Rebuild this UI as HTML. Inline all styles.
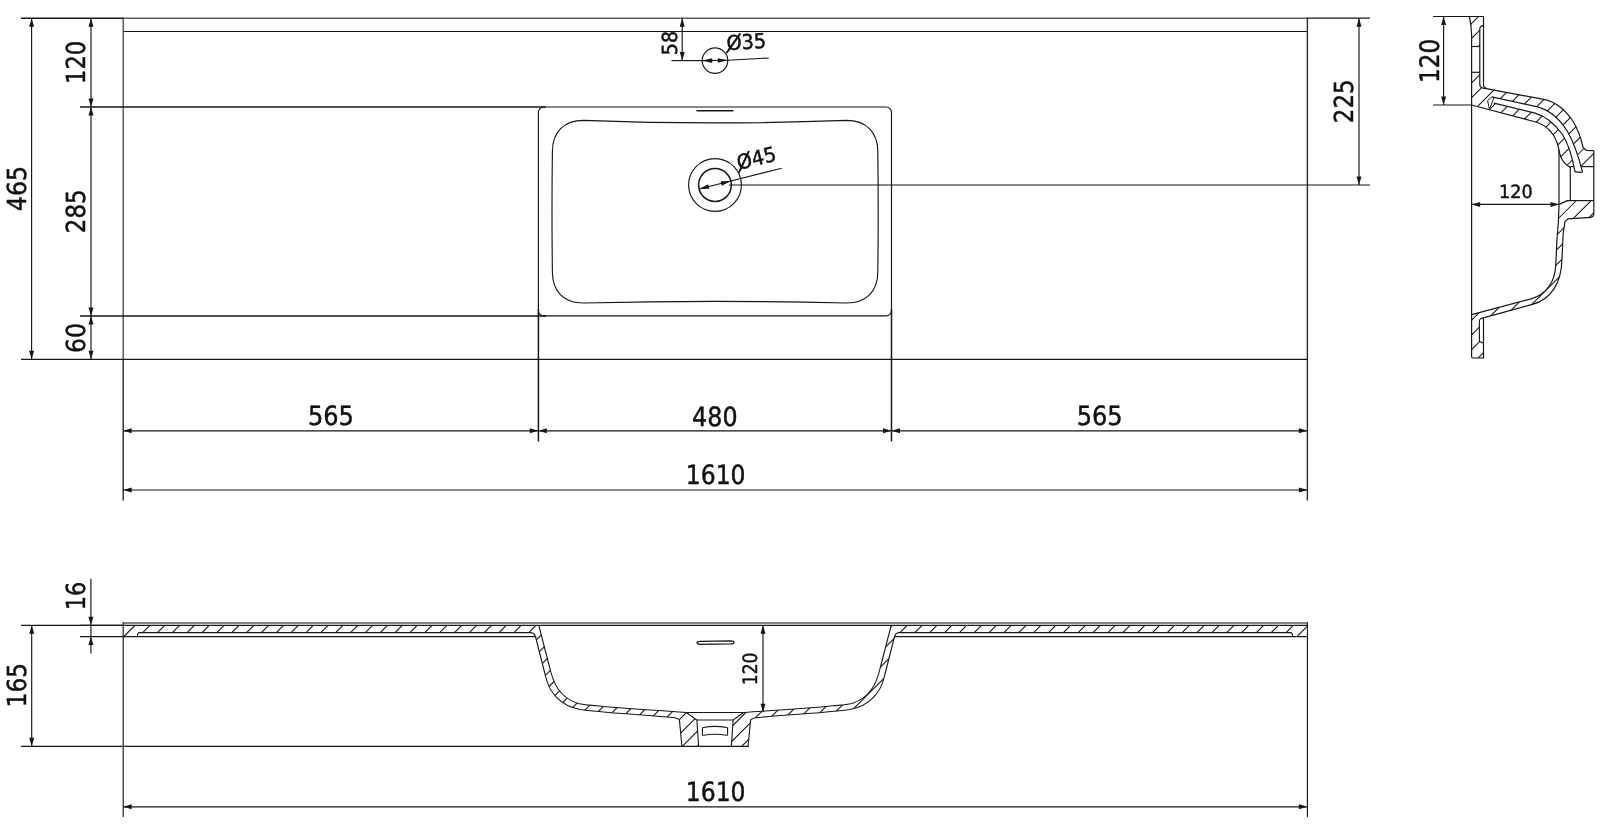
<!DOCTYPE html>
<html lang="en"><head><meta charset="utf-8"><title>Washbasin 1610 technical drawing</title>
<style>html,body{margin:0;padding:0;background:#fff;overflow:hidden}svg{display:block;filter:grayscale(1)}text{text-rendering:geometricPrecision;font-family:"DejaVu Sans Condensed","DejaVu Sans","Liberation Sans",sans-serif;font-stretch:condensed;fill:#111;stroke:#111;stroke-width:0.45px;stroke-linejoin:round}</style></head><body>
<svg width="1600" height="827" viewBox="0 0 1600 827">
<rect x="0" y="0" width="1600" height="827" fill="#ffffff"/>
<g id="top-view">
<line x1="21" y1="18.2" x2="123.2" y2="18.2" stroke="#161616" stroke-width="1.45" />
<line x1="123.2" y1="18.2" x2="1307.4" y2="18.2" stroke="#5e5e5e" stroke-width="1.55" />
<line x1="1307.4" y1="18.2" x2="1370" y2="18.2" stroke="#161616" stroke-width="1.3" />
<line x1="123" y1="31.5" x2="1307.4" y2="31.5" stroke="#161616" stroke-width="1.15" />
<line x1="123.2" y1="17.5" x2="123.2" y2="359.3" stroke="#4a4a4a" stroke-width="1.35" />
<line x1="123.2" y1="359.3" x2="123.2" y2="500.5" stroke="#161616" stroke-width="1.3" />
<line x1="1307.4" y1="17.5" x2="1307.4" y2="500.5" stroke="#2a2a2a" stroke-width="1.4" />
<line x1="21" y1="359.35" x2="1307.4" y2="359.35" stroke="#161616" stroke-width="1.15" />
<line x1="80" y1="107" x2="546" y2="107" stroke="#161616" stroke-width="1.5" />
<line x1="80" y1="316" x2="546" y2="316" stroke="#161616" stroke-width="1.5" />
<rect x="538.4" y="107" width="353.1" height="208.9" rx="5.5" ry="5.5" fill="none" stroke="#161616" stroke-width="1.15"/>
<line x1="538.4" y1="309" x2="538.4" y2="441.5" stroke="#161616" stroke-width="1.5" />
<line x1="891.5" y1="309" x2="891.5" y2="441.5" stroke="#161616" stroke-width="1.5" />
<path d="M552.4,151.5 C552.4,132 564,120.4 583.5,120.4 Q715,125.4 846.5,120.4 C866,120.4 877.8,132 877.8,151.5 Q878.6,212 877.8,272 C877.8,291.5 866,303 846.5,303 Q715,299.8 583.5,303 C564,303 552.4,291.5 552.4,272 Q551.6,212 552.4,151.5 Z" fill="none" stroke="#161616" stroke-width="1.15" />
<line x1="696.5" y1="110.8" x2="733.5" y2="110.8" stroke="#161616" stroke-width="1.6" />
<circle cx="715" cy="60.6" r="12.8" fill="none" stroke="#161616" stroke-width="1.15"/>
<circle cx="715" cy="185" r="26.4" fill="none" stroke="#161616" stroke-width="1.15"/>
<circle cx="715" cy="185" r="16.4" fill="none" stroke="#161616" stroke-width="1.5"/>
<line x1="729" y1="185" x2="1370" y2="185" stroke="#161616" stroke-width="1.15" />
</g>
<g id="top-dims">
<line x1="31.6" y1="18.2" x2="31.6" y2="359.3" stroke="#161616" stroke-width="1.15" />
<polygon points="31.60,18.20 34.10,26.70 29.10,26.70" fill="#161616"/>
<polygon points="31.60,359.30 29.10,350.80 34.10,350.80" fill="#161616"/>
<text transform="translate(25.50,211.29) rotate(-90) scale(1.012,1)" font-size="26.2">465</text>
<line x1="91" y1="18.2" x2="91" y2="107" stroke="#161616" stroke-width="1.15" />
<polygon points="91.00,18.20 93.50,26.70 88.50,26.70" fill="#161616"/>
<polygon points="91.00,107.00 88.50,98.50 93.50,98.50" fill="#161616"/>
<line x1="91" y1="107" x2="91" y2="316" stroke="#161616" stroke-width="1.15" />
<polygon points="91.00,107.00 93.50,115.50 88.50,115.50" fill="#161616"/>
<polygon points="91.00,316.00 88.50,307.50 93.50,307.50" fill="#161616"/>
<line x1="91" y1="316" x2="91" y2="359.3" stroke="#161616" stroke-width="1.15" />
<polygon points="91.00,316.00 93.50,324.50 88.50,324.50" fill="#161616"/>
<polygon points="91.00,359.30 88.50,350.80 93.50,350.80" fill="#161616"/>
<text transform="translate(85.40,84.02) rotate(-90) scale(0.962,1)" font-size="26.2">120</text>
<text transform="translate(85.40,233.16) rotate(-90) scale(0.977,1)" font-size="26.2">285</text>
<text transform="translate(85.40,353.01) rotate(-90) scale(1.007,1)" font-size="26.2">60</text>
<line x1="123.2" y1="430.8" x2="538.4" y2="430.8" stroke="#161616" stroke-width="1.15" />
<polygon points="123.20,430.80 131.70,428.30 131.70,433.30" fill="#161616"/>
<polygon points="538.40,430.80 529.90,433.30 529.90,428.30" fill="#161616"/>
<line x1="538.4" y1="430.8" x2="891.5" y2="430.8" stroke="#161616" stroke-width="1.15" />
<polygon points="538.40,430.80 546.90,428.30 546.90,433.30" fill="#161616"/>
<polygon points="891.50,430.80 883.00,433.30 883.00,428.30" fill="#161616"/>
<line x1="891.5" y1="430.8" x2="1307.4" y2="430.8" stroke="#161616" stroke-width="1.15" />
<polygon points="891.50,430.80 900.00,428.30 900.00,433.30" fill="#161616"/>
<polygon points="1307.40,430.80 1298.90,433.30 1298.90,428.30" fill="#161616"/>
<text transform="translate(307.93,424.50) rotate(0) scale(1.007,1)" font-size="26.5">565</text>
<text transform="translate(692.11,426.00) rotate(0) scale(0.998,1)" font-size="26.5">480</text>
<text transform="translate(1076.78,424.50) rotate(0) scale(1.008,1)" font-size="26.5">565</text>
<line x1="123.2" y1="490" x2="1307.4" y2="490" stroke="#161616" stroke-width="1.15" />
<polygon points="123.20,490.00 131.70,487.50 131.70,492.50" fill="#161616"/>
<polygon points="1307.40,490.00 1298.90,492.50 1298.90,487.50" fill="#161616"/>
<text transform="translate(685.79,484.15) rotate(0) scale(0.985,1)" font-size="26.5">1610</text>
<line x1="1359" y1="18.2" x2="1359" y2="185" stroke="#161616" stroke-width="1.15" />
<polygon points="1359.00,18.20 1361.50,26.70 1356.50,26.70" fill="#161616"/>
<polygon points="1359.00,185.00 1356.50,176.50 1361.50,176.50" fill="#161616"/>
<text transform="translate(1352.90,123.16) rotate(-90) scale(0.977,1)" font-size="26.2">225</text>
<line x1="682.2" y1="18.2" x2="682.2" y2="60.6" stroke="#161616" stroke-width="1.15" />
<polygon points="682.20,18.20 684.70,26.70 679.70,26.70" fill="#161616"/>
<polygon points="682.20,60.60 679.70,52.10 684.70,52.10" fill="#161616"/>
<line x1="671.5" y1="60.6" x2="702.2" y2="60.6" stroke="#161616" stroke-width="1.15" />
<text transform="translate(676.54,55.13) rotate(-90) scale(1.014,1)" font-size="20.79">58</text>
<line x1="702.2" y1="60.6" x2="727.8" y2="60.3" stroke="#161616" stroke-width="1.15" />
<line x1="727.8" y1="60.3" x2="768.8" y2="58.0" stroke="#161616" stroke-width="1.15" />
<polygon points="702.20,60.60 712.20,58.30 712.20,62.90" fill="#161616"/>
<polygon points="727.80,60.30 717.84,62.77 717.76,58.17" fill="#161616"/>
<g transform="translate(726.9,50.3) rotate(-3.6)"><text transform="scale(1.05,1)" font-size="20.4">Ø35</text><line x1="-0.66" y1="2.86" x2="14.48" y2="-16.11" stroke="#161616" stroke-width="1.7"/></g>
<line x1="699.08" y1="188.94" x2="781.8" y2="168.2" stroke="#161616" stroke-width="1.15" />
<polygon points="699.08,188.94 708.23,184.30 709.34,188.77" fill="#161616"/>
<polygon points="730.92,181.06 721.77,185.70 720.66,181.23" fill="#161616"/>
<g transform="translate(738.8,169.9) rotate(-13.9)"><text transform="scale(1.05,1)" font-size="20.4">Ø45</text><line x1="-0.66" y1="2.86" x2="14.48" y2="-16.11" stroke="#161616" stroke-width="1.7"/></g>
</g>
<g id="side-view">
<defs><clipPath id="sideclip">
<path d="M1469.4,16.5 L1483.5,16.5 L1483.5,25.6 L1479.8,28 L1479.8,46.5 L1471.6,46.5 L1471.6,35 Q1471.4,25 1469.4,16.5 Z"/>
<path d="M1471.6,72.3 L1479.8,72.3 L1478.8,85 L1481,87.5 L1486.3,88.7 L1491.9,89.8 L1491.9,96.9 L1488,100.5 L1489.5,109.8 L1471.6,105 Z"/>
<path d="M1486.3,88.7 L1543.8,99.4 C1556,102 1566,111 1572.5,120.5 C1578,129 1581,138 1583.1,147.5 L1586.3,150.3 L1593.8,150.6 L1593.8,166.6 L1583,166.6 L1582.5,171.9 C1579,158 1574,143 1567.5,131.5 C1561,121 1551,110.5 1537.5,106.9 L1491.9,96.9 L1491.9,89.8 Z"/>
<path d="M1493.8,103.1 L1535,113.1 C1547,116.5 1556,125.5 1562.5,134.5 C1568.5,144 1572.5,158 1575,171.9 L1570.3,167.5 C1565,164.5 1561,160 1559.6,153 C1559,150 1558.6,147 1557,142.5 C1554,134 1547.5,126 1537.5,122.5 L1471.6,105 L1489.5,109.8 Z"/>
<path d="M1559,204.4 L1567.5,200.6 L1593.8,200.6 L1593.8,215.6 L1591.3,217.3 L1568,218.8 L1565,221.5 L1563.2,233 L1561.9,260 C1561.5,283 1551,299 1532.5,304.4 L1482.5,318.1 L1479.4,318.8 L1479.4,341.9 L1483.5,341.9 L1483.5,358 L1471.6,358 L1471.6,314.6 L1531.2,298.8 C1547,294.5 1554.8,281 1555.7,266 L1556.9,240 L1558.4,222 Z"/>
</clipPath></defs>
<g clip-path="url(#sideclip)">
<line x1="1485.1" y1="10" x2="1125.1" y2="370" stroke="#161616" stroke-width="1.05" />
<line x1="1499.93" y1="10" x2="1139.93" y2="370" stroke="#161616" stroke-width="1.05" />
<line x1="1514.76" y1="10" x2="1154.76" y2="370" stroke="#161616" stroke-width="1.05" />
<line x1="1529.59" y1="10" x2="1169.59" y2="370" stroke="#161616" stroke-width="1.05" />
<line x1="1544.42" y1="10" x2="1184.42" y2="370" stroke="#161616" stroke-width="1.05" />
<line x1="1559.25" y1="10" x2="1199.25" y2="370" stroke="#161616" stroke-width="1.05" />
<line x1="1574.08" y1="10" x2="1214.08" y2="370" stroke="#161616" stroke-width="1.05" />
<line x1="1588.91" y1="10" x2="1228.91" y2="370" stroke="#161616" stroke-width="1.05" />
<line x1="1603.74" y1="10" x2="1243.74" y2="370" stroke="#161616" stroke-width="1.05" />
<line x1="1618.57" y1="10" x2="1258.57" y2="370" stroke="#161616" stroke-width="1.05" />
<line x1="1633.4" y1="10" x2="1273.4" y2="370" stroke="#161616" stroke-width="1.05" />
<line x1="1648.23" y1="10" x2="1288.23" y2="370" stroke="#161616" stroke-width="1.05" />
<line x1="1663.06" y1="10" x2="1303.06" y2="370" stroke="#161616" stroke-width="1.05" />
<line x1="1677.89" y1="10" x2="1317.89" y2="370" stroke="#161616" stroke-width="1.05" />
<line x1="1692.72" y1="10" x2="1332.72" y2="370" stroke="#161616" stroke-width="1.05" />
<line x1="1707.55" y1="10" x2="1347.55" y2="370" stroke="#161616" stroke-width="1.05" />
<line x1="1722.38" y1="10" x2="1362.38" y2="370" stroke="#161616" stroke-width="1.05" />
<line x1="1737.21" y1="10" x2="1377.21" y2="370" stroke="#161616" stroke-width="1.05" />
<line x1="1752.04" y1="10" x2="1392.04" y2="370" stroke="#161616" stroke-width="1.05" />
<line x1="1766.87" y1="10" x2="1406.87" y2="370" stroke="#161616" stroke-width="1.05" />
<line x1="1781.7" y1="10" x2="1421.7" y2="370" stroke="#161616" stroke-width="1.05" />
<line x1="1796.53" y1="10" x2="1436.53" y2="370" stroke="#161616" stroke-width="1.05" />
<line x1="1811.36" y1="10" x2="1451.36" y2="370" stroke="#161616" stroke-width="1.05" />
<line x1="1826.19" y1="10" x2="1466.19" y2="370" stroke="#161616" stroke-width="1.05" />
<line x1="1841.02" y1="10" x2="1481.02" y2="370" stroke="#161616" stroke-width="1.05" />
<line x1="1855.85" y1="10" x2="1495.85" y2="370" stroke="#161616" stroke-width="1.05" />
<line x1="1870.68" y1="10" x2="1510.68" y2="370" stroke="#161616" stroke-width="1.05" />
<line x1="1885.51" y1="10" x2="1525.51" y2="370" stroke="#161616" stroke-width="1.05" />
</g>
<line x1="1433" y1="16.5" x2="1483.6" y2="16.5" stroke="#161616" stroke-width="1.2" />
<line x1="1433" y1="105" x2="1472" y2="105" stroke="#161616" stroke-width="1.2" />
<path d="M1469.4,16.5 Q1471.4,25 1471.6,35 L1471.6,356.5 Q1471.6,358 1473,358 L1483.5,358 L1483.5,319 L1482.5,318.1" fill="none" stroke="#161616" stroke-width="1.2" />
<path d="M1483.5,16.5 L1483.5,86.3" fill="none" stroke="#161616" stroke-width="1.2" />
<path d="M1483.5,25.6 Q1480,25.8 1479.8,29 L1479.8,84 Q1479.6,87.2 1483,88.1 L1486.3,88.7" fill="none" stroke="#161616" stroke-width="1.2" />
<line x1="1471.6" y1="46.5" x2="1479.8" y2="46.5" stroke="#161616" stroke-width="1.15" />
<line x1="1471.6" y1="72.3" x2="1479.8" y2="72.3" stroke="#161616" stroke-width="1.15" />
<path d="M1483.5,86.3 L1486.3,88.7 L1543.8,99.4 C1556,102 1566,111 1572.5,120.5 C1578,129 1581,138 1583.1,147.5 L1586.3,150.3 L1593.8,150.6" fill="none" stroke="#161616" stroke-width="1.2" />
<path d="M1491.9,96.9 L1537.5,106.9 C1551,110.5 1561,121 1567.5,131.5 C1574,143 1579,158 1582.5,171.9" fill="none" stroke="#161616" stroke-width="1.2" />
<path d="M1493.8,103.1 L1535,113.1 C1547,116.5 1556,125.5 1562.5,134.5 C1568.5,144 1572.5,158 1575,171.9" fill="none" stroke="#161616" stroke-width="1.2" />
<path d="M1471.6,105 L1537.5,122.5 C1547.5,126 1554,134 1557,142.5 C1558.6,147 1559,150 1559.6,153 C1561,160 1565,164.5 1570.3,167.5" fill="none" stroke="#161616" stroke-width="1.2" />
<path d="M1487.6,100.6 L1491.9,96.9 M1489.5,109.5 L1493.8,98 M1487.6,100.6 L1489.5,109.5" fill="none" stroke="#161616" stroke-width="1.0" />
<line x1="1575" y1="171.9" x2="1582.5" y2="172.3" stroke="#161616" stroke-width="1.2" />
<line x1="1559" y1="150" x2="1559" y2="204.4" stroke="#161616" stroke-width="1.2" />
<line x1="1570.3" y1="166.6" x2="1570.3" y2="200.6" stroke="#161616" stroke-width="1.2" />
<line x1="1570.3" y1="166.6" x2="1573.6" y2="166.6" stroke="#161616" stroke-width="1.2" />
<line x1="1581.6" y1="166.6" x2="1593.8" y2="166.6" stroke="#161616" stroke-width="1.2" />
<line x1="1593.8" y1="150.6" x2="1593.8" y2="215.6" stroke="#161616" stroke-width="1.2" />
<line x1="1566.5" y1="200.6" x2="1593.8" y2="200.6" stroke="#161616" stroke-width="1.2" />
<line x1="1559" y1="204.4" x2="1567.5" y2="200.6" stroke="#161616" stroke-width="1.2" />
<path d="M1559,204.4 L1558.4,222 L1556.9,240 L1555.7,266 C1554.8,281 1547,294.5 1531.2,298.8 L1471.7,314.6" fill="none" stroke="#161616" stroke-width="1.2" />
<path d="M1593.8,215.6 L1591.3,217.3 L1568,218.8 L1565,221.5 L1563.2,233 L1561.9,260 C1561.5,283 1551,299 1532.5,304.4 L1482.5,318.1" fill="none" stroke="#161616" stroke-width="1.2" />
<path d="M1483.5,318 Q1479.6,318.2 1479.4,321 L1479.4,341.3 L1483.5,343.2" fill="none" stroke="#161616" stroke-width="1.1" />
<line x1="1443.6" y1="16.5" x2="1443.6" y2="105" stroke="#161616" stroke-width="1.15" />
<polygon points="1443.60,16.50 1446.10,25.00 1441.10,25.00" fill="#161616"/>
<polygon points="1443.60,105.00 1441.10,96.50 1446.10,96.50" fill="#161616"/>
<text transform="translate(1438.50,83.08) rotate(-90) scale(0.964,1)" font-size="26.8">120</text>
<line x1="1471.6" y1="204.4" x2="1559" y2="204.4" stroke="#161616" stroke-width="1.15" />
<polygon points="1471.60,204.40 1480.10,201.90 1480.10,206.90" fill="#161616"/>
<polygon points="1559.00,204.40 1550.50,206.90 1550.50,201.90" fill="#161616"/>
<text transform="translate(1498.99,198.13) rotate(0) scale(1.085,1)" font-size="18.08">120</text>
</g>
<g id="front-view">
<defs><clipPath id="frontclip"><path d="M123.2,625.3 L538.8,625.3 L549.8,668 C553.5,684 560,697.5 578,703.5 C590,706.5 640,709 686.3,712.5 L696.9,720 L698.6,746.3 L681.9,746.3 L679.4,719.6 L675,717.8 C640,714.5 600,712.5 580,709.5 C560,706 549,692 545.5,676 L535.6,637 Q534.5,632.8 531,632.6 L139.5,632.6 Q137.5,632.6 137.4,636.6 L123.2,636.6 Z"/><path d="M123.2,625.3 L538.8,625.3 L549.8,668 C553.5,684 560,697.5 578,703.5 C590,706.5 640,709 686.3,712.5 L696.9,720 L698.6,746.3 L681.9,746.3 L679.4,719.6 L675,717.8 C640,714.5 600,712.5 580,709.5 C560,706 549,692 545.5,676 L535.6,637 Q534.5,632.8 531,632.6 L139.5,632.6 Q137.5,632.6 137.4,636.6 L123.2,636.6 Z" transform="translate(1430,0) scale(-1,1)"/></clipPath></defs>
<g clip-path="url(#frontclip)">
<line x1="115.85" y1="600" x2="-44.15" y2="760" stroke="#161616" stroke-width="1.1" />
<line x1="130.7" y1="600" x2="-29.3" y2="760" stroke="#161616" stroke-width="1.1" />
<line x1="145.55" y1="600" x2="-14.45" y2="760" stroke="#161616" stroke-width="1.1" />
<line x1="160.4" y1="600" x2="0.4" y2="760" stroke="#161616" stroke-width="1.1" />
<line x1="175.25" y1="600" x2="15.25" y2="760" stroke="#161616" stroke-width="1.1" />
<line x1="190.1" y1="600" x2="30.1" y2="760" stroke="#161616" stroke-width="1.1" />
<line x1="204.95" y1="600" x2="44.95" y2="760" stroke="#161616" stroke-width="1.1" />
<line x1="219.8" y1="600" x2="59.8" y2="760" stroke="#161616" stroke-width="1.1" />
<line x1="234.65" y1="600" x2="74.65" y2="760" stroke="#161616" stroke-width="1.1" />
<line x1="249.5" y1="600" x2="89.5" y2="760" stroke="#161616" stroke-width="1.1" />
<line x1="264.35" y1="600" x2="104.35" y2="760" stroke="#161616" stroke-width="1.1" />
<line x1="279.2" y1="600" x2="119.2" y2="760" stroke="#161616" stroke-width="1.1" />
<line x1="294.05" y1="600" x2="134.05" y2="760" stroke="#161616" stroke-width="1.1" />
<line x1="308.9" y1="600" x2="148.9" y2="760" stroke="#161616" stroke-width="1.1" />
<line x1="323.75" y1="600" x2="163.75" y2="760" stroke="#161616" stroke-width="1.1" />
<line x1="338.6" y1="600" x2="178.6" y2="760" stroke="#161616" stroke-width="1.1" />
<line x1="353.45" y1="600" x2="193.45" y2="760" stroke="#161616" stroke-width="1.1" />
<line x1="368.3" y1="600" x2="208.3" y2="760" stroke="#161616" stroke-width="1.1" />
<line x1="383.15" y1="600" x2="223.15" y2="760" stroke="#161616" stroke-width="1.1" />
<line x1="398.0" y1="600" x2="238.0" y2="760" stroke="#161616" stroke-width="1.1" />
<line x1="412.85" y1="600" x2="252.85" y2="760" stroke="#161616" stroke-width="1.1" />
<line x1="427.7" y1="600" x2="267.7" y2="760" stroke="#161616" stroke-width="1.1" />
<line x1="442.55" y1="600" x2="282.55" y2="760" stroke="#161616" stroke-width="1.1" />
<line x1="457.4" y1="600" x2="297.4" y2="760" stroke="#161616" stroke-width="1.1" />
<line x1="472.25" y1="600" x2="312.25" y2="760" stroke="#161616" stroke-width="1.1" />
<line x1="487.1" y1="600" x2="327.1" y2="760" stroke="#161616" stroke-width="1.1" />
<line x1="501.95" y1="600" x2="341.95" y2="760" stroke="#161616" stroke-width="1.1" />
<line x1="516.8" y1="600" x2="356.8" y2="760" stroke="#161616" stroke-width="1.1" />
<line x1="531.65" y1="600" x2="371.65" y2="760" stroke="#161616" stroke-width="1.1" />
<line x1="546.5" y1="600" x2="386.5" y2="760" stroke="#161616" stroke-width="1.1" />
<line x1="561.35" y1="600" x2="401.35" y2="760" stroke="#161616" stroke-width="1.1" />
<line x1="576.2" y1="600" x2="416.2" y2="760" stroke="#161616" stroke-width="1.1" />
<line x1="591.05" y1="600" x2="431.05" y2="760" stroke="#161616" stroke-width="1.1" />
<line x1="605.9" y1="600" x2="445.9" y2="760" stroke="#161616" stroke-width="1.1" />
<line x1="620.75" y1="600" x2="460.75" y2="760" stroke="#161616" stroke-width="1.1" />
<line x1="635.6" y1="600" x2="475.6" y2="760" stroke="#161616" stroke-width="1.1" />
<line x1="650.45" y1="600" x2="490.45" y2="760" stroke="#161616" stroke-width="1.1" />
<line x1="665.3" y1="600" x2="505.3" y2="760" stroke="#161616" stroke-width="1.1" />
<line x1="680.15" y1="600" x2="520.15" y2="760" stroke="#161616" stroke-width="1.1" />
<line x1="695.0" y1="600" x2="535.0" y2="760" stroke="#161616" stroke-width="1.1" />
<line x1="709.85" y1="600" x2="549.85" y2="760" stroke="#161616" stroke-width="1.1" />
<line x1="724.7" y1="600" x2="564.7" y2="760" stroke="#161616" stroke-width="1.1" />
<line x1="739.55" y1="600" x2="579.55" y2="760" stroke="#161616" stroke-width="1.1" />
<line x1="754.4" y1="600" x2="594.4" y2="760" stroke="#161616" stroke-width="1.1" />
<line x1="769.25" y1="600" x2="609.25" y2="760" stroke="#161616" stroke-width="1.1" />
<line x1="784.1" y1="600" x2="624.1" y2="760" stroke="#161616" stroke-width="1.1" />
<line x1="798.95" y1="600" x2="638.95" y2="760" stroke="#161616" stroke-width="1.1" />
<line x1="813.8" y1="600" x2="653.8" y2="760" stroke="#161616" stroke-width="1.1" />
<line x1="828.65" y1="600" x2="668.65" y2="760" stroke="#161616" stroke-width="1.1" />
<line x1="843.5" y1="600" x2="683.5" y2="760" stroke="#161616" stroke-width="1.1" />
<line x1="858.35" y1="600" x2="698.35" y2="760" stroke="#161616" stroke-width="1.1" />
<line x1="873.2" y1="600" x2="713.2" y2="760" stroke="#161616" stroke-width="1.1" />
<line x1="888.05" y1="600" x2="728.05" y2="760" stroke="#161616" stroke-width="1.1" />
<line x1="902.9" y1="600" x2="742.9" y2="760" stroke="#161616" stroke-width="1.1" />
<line x1="917.75" y1="600" x2="757.75" y2="760" stroke="#161616" stroke-width="1.1" />
<line x1="932.6" y1="600" x2="772.6" y2="760" stroke="#161616" stroke-width="1.1" />
<line x1="947.45" y1="600" x2="787.45" y2="760" stroke="#161616" stroke-width="1.1" />
<line x1="962.3" y1="600" x2="802.3" y2="760" stroke="#161616" stroke-width="1.1" />
<line x1="977.15" y1="600" x2="817.15" y2="760" stroke="#161616" stroke-width="1.1" />
<line x1="992.0" y1="600" x2="832.0" y2="760" stroke="#161616" stroke-width="1.1" />
<line x1="1006.85" y1="600" x2="846.85" y2="760" stroke="#161616" stroke-width="1.1" />
<line x1="1021.7" y1="600" x2="861.7" y2="760" stroke="#161616" stroke-width="1.1" />
<line x1="1036.55" y1="600" x2="876.55" y2="760" stroke="#161616" stroke-width="1.1" />
<line x1="1051.4" y1="600" x2="891.4" y2="760" stroke="#161616" stroke-width="1.1" />
<line x1="1066.25" y1="600" x2="906.25" y2="760" stroke="#161616" stroke-width="1.1" />
<line x1="1081.1" y1="600" x2="921.1" y2="760" stroke="#161616" stroke-width="1.1" />
<line x1="1095.95" y1="600" x2="935.95" y2="760" stroke="#161616" stroke-width="1.1" />
<line x1="1110.8" y1="600" x2="950.8" y2="760" stroke="#161616" stroke-width="1.1" />
<line x1="1125.65" y1="600" x2="965.65" y2="760" stroke="#161616" stroke-width="1.1" />
<line x1="1140.5" y1="600" x2="980.5" y2="760" stroke="#161616" stroke-width="1.1" />
<line x1="1155.35" y1="600" x2="995.35" y2="760" stroke="#161616" stroke-width="1.1" />
<line x1="1170.2" y1="600" x2="1010.2" y2="760" stroke="#161616" stroke-width="1.1" />
<line x1="1185.05" y1="600" x2="1025.05" y2="760" stroke="#161616" stroke-width="1.1" />
<line x1="1199.9" y1="600" x2="1039.9" y2="760" stroke="#161616" stroke-width="1.1" />
<line x1="1214.75" y1="600" x2="1054.75" y2="760" stroke="#161616" stroke-width="1.1" />
<line x1="1229.6" y1="600" x2="1069.6" y2="760" stroke="#161616" stroke-width="1.1" />
<line x1="1244.45" y1="600" x2="1084.45" y2="760" stroke="#161616" stroke-width="1.1" />
<line x1="1259.3" y1="600" x2="1099.3" y2="760" stroke="#161616" stroke-width="1.1" />
<line x1="1274.15" y1="600" x2="1114.15" y2="760" stroke="#161616" stroke-width="1.1" />
<line x1="1289.0" y1="600" x2="1129.0" y2="760" stroke="#161616" stroke-width="1.1" />
<line x1="1303.85" y1="600" x2="1143.85" y2="760" stroke="#161616" stroke-width="1.1" />
<line x1="1318.7" y1="600" x2="1158.7" y2="760" stroke="#161616" stroke-width="1.1" />
<line x1="1333.55" y1="600" x2="1173.55" y2="760" stroke="#161616" stroke-width="1.1" />
<line x1="1348.4" y1="600" x2="1188.4" y2="760" stroke="#161616" stroke-width="1.1" />
<line x1="1363.25" y1="600" x2="1203.25" y2="760" stroke="#161616" stroke-width="1.1" />
<line x1="1378.1" y1="600" x2="1218.1" y2="760" stroke="#161616" stroke-width="1.1" />
<line x1="1392.95" y1="600" x2="1232.95" y2="760" stroke="#161616" stroke-width="1.1" />
<line x1="1407.8" y1="600" x2="1247.8" y2="760" stroke="#161616" stroke-width="1.1" />
<line x1="1422.65" y1="600" x2="1262.65" y2="760" stroke="#161616" stroke-width="1.1" />
<line x1="1437.5" y1="600" x2="1277.5" y2="760" stroke="#161616" stroke-width="1.1" />
<line x1="1452.35" y1="600" x2="1292.35" y2="760" stroke="#161616" stroke-width="1.1" />
<line x1="1467.2" y1="600" x2="1307.2" y2="760" stroke="#161616" stroke-width="1.1" />
<line x1="1482.05" y1="600" x2="1322.05" y2="760" stroke="#161616" stroke-width="1.1" />
<line x1="1496.9" y1="600" x2="1336.9" y2="760" stroke="#161616" stroke-width="1.1" />
</g>
<line x1="123.2" y1="623" x2="1307.4" y2="623" stroke="#5a5a5a" stroke-width="1.6" />
<line x1="21" y1="625.3" x2="1307.4" y2="625.3" stroke="#161616" stroke-width="1.2" />
<line x1="21" y1="746.3" x2="748.8" y2="746.3" stroke="#161616" stroke-width="1.2" />
<line x1="123.2" y1="622.3" x2="123.2" y2="817" stroke="#161616" stroke-width="1.15" />
<line x1="1307.4" y1="622.3" x2="1307.4" y2="817" stroke="#161616" stroke-width="1.15" />
<g>
<line x1="80" y1="636.6" x2="535.6" y2="636.6" stroke="#161616" stroke-width="1.2" />
<path d="M137.4,636.6 Q137.5,632.6 139.5,632.6 L531,632.6 Q534.5,632.8 535.6,637" fill="none" stroke="#161616" stroke-width="1.1" />
<path d="M538.8,625.3 L549.8,668 C553.5,684 560,697.5 578,703.5 C590,706.5 640,709 686.3,712.5" fill="none" stroke="#161616" stroke-width="1.1" />
<path d="M535.6,637 L545.5,676 C549,692 560,706 580,709.5 C600,712.5 640,714.5 675,717.8 L679.4,719.6 L681.9,746.3" fill="none" stroke="#161616" stroke-width="1.1" />
<path d="M686.3,712.5 L696.9,720 L698.6,746.3" fill="none" stroke="#161616" stroke-width="1.1" />
</g>
<g transform="translate(1430,0) scale(-1,1)">
<line x1="123.2" y1="636.6" x2="535.6" y2="636.6" stroke="#161616" stroke-width="1.2" />
<path d="M137.4,636.6 Q137.5,632.6 139.5,632.6 L531,632.6 Q534.5,632.8 535.6,637" fill="none" stroke="#161616" stroke-width="1.1" />
<path d="M538.8,625.3 L549.8,668 C553.5,684 560,697.5 578,703.5 C590,706.5 640,709 686.3,712.5" fill="none" stroke="#161616" stroke-width="1.1" />
<path d="M535.6,637 L545.5,676 C549,692 560,706 580,709.5 C600,712.5 640,714.5 675,717.8 L679.4,719.6 L681.9,746.3" fill="none" stroke="#161616" stroke-width="1.1" />
<path d="M686.3,712.5 L696.9,720 L698.6,746.3" fill="none" stroke="#161616" stroke-width="1.1" />
</g>
<line x1="686.3" y1="712.5" x2="743.7" y2="712.5" stroke="#161616" stroke-width="1.2" />
<line x1="696.9" y1="720" x2="733.1" y2="720" stroke="#161616" stroke-width="1.1" />
<path d="M703.5,727.5 Q715,725.3 726.5,727.5 Q727.6,727.7 727.6,728.8 L727.6,734.2 Q727.6,735.4 726.5,735.2 Q715,733.2 703.5,735.2 Q702.4,735.4 702.4,734.2 L702.4,728.8 Q702.4,727.7 703.5,727.5 Z" fill="none" stroke="#161616" stroke-width="1.1" />
<path d="M697,642.6 Q697,641.4 700,641.3 L731,640.9 Q734,641 734,642.4 Q734,643.7 731,643.9 L700,644.3 Q697,644.2 697,642.6 Z" fill="none" stroke="#161616" stroke-width="1.25" />
<line x1="31.7" y1="625.3" x2="31.7" y2="746.3" stroke="#161616" stroke-width="1.15" />
<polygon points="31.70,625.30 34.20,633.80 29.20,633.80" fill="#161616"/>
<polygon points="31.70,746.30 29.20,737.80 34.20,737.80" fill="#161616"/>
<text transform="translate(25.60,707.40) rotate(-90) scale(0.991,1)" font-size="26.2">165</text>
<line x1="80" y1="625.3" x2="123" y2="625.3" stroke="#161616" stroke-width="1.2" />
<line x1="90.9" y1="578.8" x2="90.9" y2="653.6" stroke="#161616" stroke-width="1.15" />
<polygon points="90.90,625.30 88.40,616.80 93.40,616.80" fill="#161616"/>
<polygon points="90.90,636.60 93.40,645.10 88.40,645.10" fill="#161616"/>
<text transform="translate(85.40,610.20) rotate(-90) scale(0.953,1)" font-size="26.2">16</text>
<line x1="763" y1="625.3" x2="763" y2="712.2" stroke="#161616" stroke-width="1.15" />
<polygon points="763.00,625.30 765.50,633.80 760.50,633.80" fill="#161616"/>
<polygon points="763.00,712.20 760.50,703.70 765.50,703.70" fill="#161616"/>
<text transform="translate(757.25,685.26) rotate(-90) scale(0.961,1)" font-size="19.87">120</text>
<line x1="123.2" y1="806.8" x2="1307.4" y2="806.8" stroke="#161616" stroke-width="1.15" />
<polygon points="123.20,806.80 131.70,804.30 131.70,809.30" fill="#161616"/>
<polygon points="1307.40,806.80 1298.90,809.30 1298.90,804.30" fill="#161616"/>
<text transform="translate(685.79,801.15) rotate(0) scale(0.985,1)" font-size="26.5">1610</text>
</g>
</svg></body></html>
